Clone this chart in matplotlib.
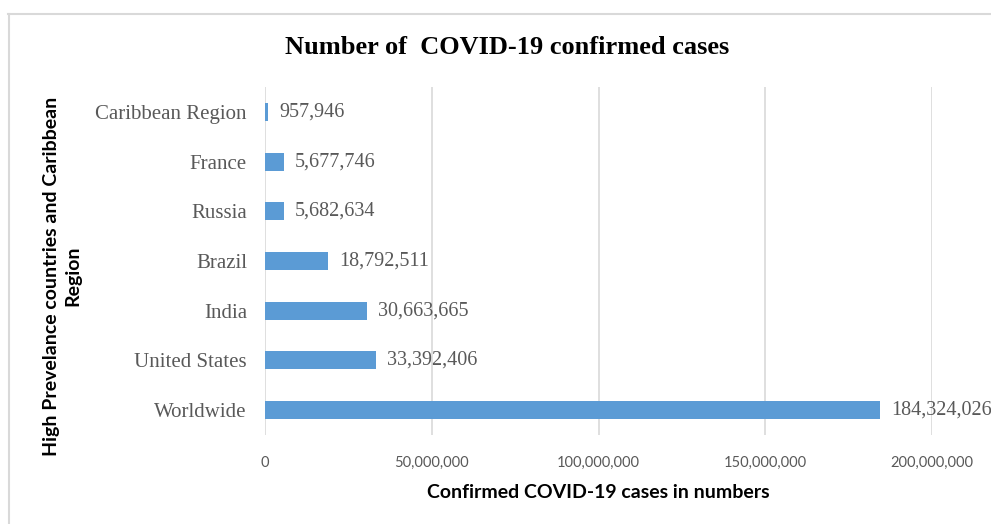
import matplotlib
matplotlib.use("Agg")
import matplotlib.pyplot as plt
from matplotlib.lines import Line2D
from matplotlib.ticker import FuncFormatter

categories = ["Worldwide", "United States", "India", "Brazil", "Russia", "France", "Caribbean Region"]
cases = [184324026, 33392406, 30663665, 18792511, 5682634, 5677746, 957946]
x_ticks = [0, 50000000, 100000000, 150000000, 200000000]

title = "Number of  COVID-19 confirmed cases"
xlabel = "Confirmed COVID-19 cases in numbers"
ylabel = "High Prevelance countries and Caribbean\nRegion"

bar_color = "#5B9BD5"
grid_color = "#D9D9D9"
text_gray = "#595959"
serif = ["Liberation Serif", "DejaVu Serif"]
sans = ["Lato", "DejaVu Sans"]

fig = plt.figure(figsize=(9.91, 5.24), dpi=100)
ax = fig.add_axes([265/991, 1-435/524, (932-265)/991, (435-87)/524])

ypos = list(range(len(categories)))
ax.barh(ypos, cases, height=0.36, color=bar_color, zorder=3)
ax.set_ylim(-0.5, len(categories)-0.5)
ax.set_xlim(0, 200000000)
ax.set_xticks(x_ticks)
ax.xaxis.set_major_formatter(FuncFormatter(lambda v, p: f"{int(v):,}"))
ax.set_yticks(ypos)
ax.set_yticklabels(categories, fontfamily=serif, fontsize=15, color=text_gray)
for lbl in ax.get_xticklabels():
    lbl.set_fontfamily(sans)
    lbl.set_fontsize(10.5)
    lbl.set_color(text_gray)
ax.tick_params(axis="y", length=0, pad=13)
ax.tick_params(axis="x", length=0, pad=15)
for s in ax.spines.values():
    s.set_visible(False)
ax.grid(axis="x", color=grid_color, linewidth=1.2, zorder=0)
ax.set_axisbelow(True)

for y, v in zip(ypos, cases):
    ax.annotate(f"{v:,}", xy=(v, y), xytext=(8, 0), textcoords="offset points",
                ha="left", va="center", fontfamily=serif, fontsize=14.5, color=text_gray)

ax.set_xlabel(xlabel, fontfamily=sans, fontweight="bold", fontsize=14, color="black", labelpad=10)
fig.text(62/991, 1-276/524, ylabel, rotation=90, ha="center", va="center",
         fontfamily=sans, fontweight="bold", fontsize=14, color="black", multialignment="center",
         linespacing=1.3)
fig.text(507/991, 1-48/524, title, ha="center", va="center",
         fontfamily=serif, fontweight="bold", fontsize=19, color="black")

fig.add_artist(Line2D([8/991, 1.0], [1-14/524, 1-14/524], transform=fig.transFigure,
                      color="#D9D9D9", linewidth=1.5))
fig.add_artist(Line2D([9/991, 9/991], [0, 1-14/524], transform=fig.transFigure,
                      color="#D9D9D9", linewidth=1.5))

fig.savefig("out.png", dpi=100)
